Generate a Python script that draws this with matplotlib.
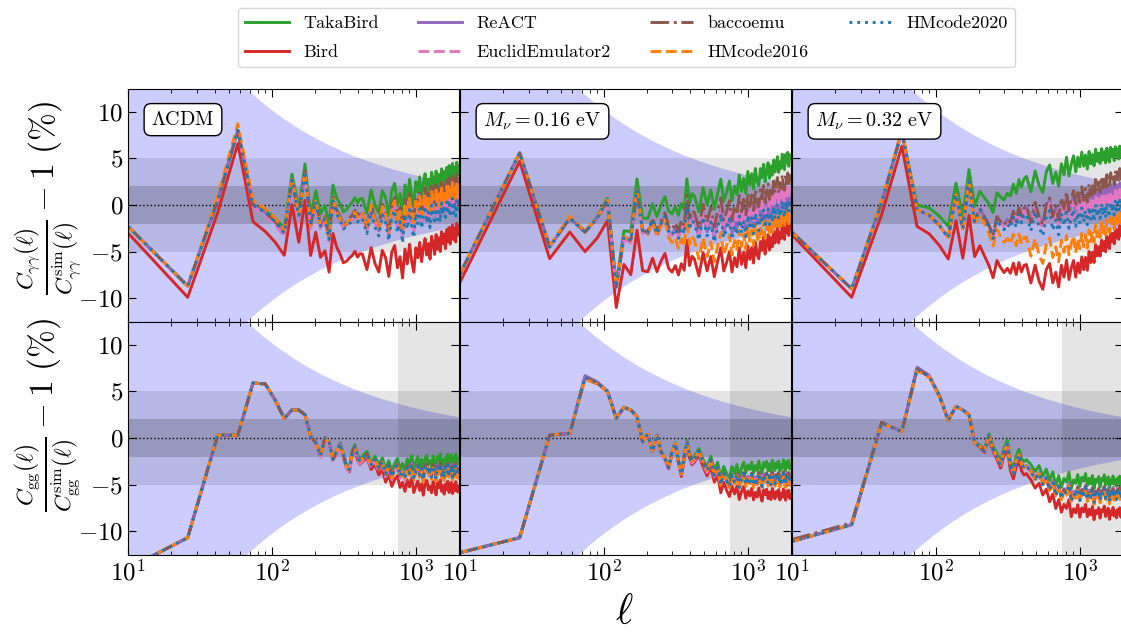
import numpy as np
import matplotlib.pyplot as plt

plt.rcParams['font.family'] = 'serif'
plt.rcParams['font.serif'] = ['cmr10']
plt.rcParams['mathtext.fontset'] = 'cm'
plt.rcParams['axes.formatter.use_mathtext'] = True

# multipole bins: width 16 up to 410, then every other bin
ell = np.concatenate([np.arange(10, 411, 16), np.arange(426, 1995, 32)])

models = ['TakaBird', 'Bird', 'ReACT', 'EuclidEmulator2', 'baccoemu', 'HMcode2016', 'HMcode2020']
colors = ['tab:green', 'tab:red', 'tab:purple', 'tab:pink', 'tab:brown', 'tab:orange', 'tab:blue']
styles = ['-', '-', '-', '--', '-.', '--', ':']

cosmo_labels = [r'$\Lambda$CDM', r'$M_\nu = 0.16$ eV', r'$M_\nu = 0.32$ eV']

# common residual shape of each panel (%)
base_gam_lcdm = [-2.3, -8.7, 0.5, 8.0, 0.0, -0.8, -1.8, -3.0, 2.7, -1.1, 3.6, -2.2, 0.4, -2.2, -1.4, -3.6,
                 0.6, -0.8, -1.5, -2.4, -2.2, -1.8, -1.5, -1.0, -1.6, -1.2,
                 -1.2, -2.8, -0.4, -2.1, -3.0, -0.7, -1.5, -3.5, -0.9, -0.2,
                 -2.6, -1.4, -3.7, -0.6, -2.2, -0.1, -1.9, -3.1, -0.5, -1.6,
                 0.0, -2.1, -0.7, 0.3, -1.5, -0.3, -2.0, 0.4, -0.4, -1.6,
                 0.5, -1.1, 0.1, -1.4, 0.7, -0.6, 0.4, -1.2, 0.8, -0.5,
                 1.0, -0.8, 0.5, 1.2, -0.4, 0.8, -0.7, 1.3, 0.0, 0.9]
base_gam_016 = [-7.4, 5.6, -4.5, -1.4, -2.9, -1.4, 0.5, -8.8, -3.4, -3.8, 1.6, -2.8, -3.0, -1.6, -3.1, -2.0,
                -1.2, -2.8, -3.2, -2.5, -3.5, -2.3, -3.0, 0.2, -2.5, -1.5,
                -1.8, -3.6, -1.1, -3.1, -1.6, -3.8, -2.2, -0.8, -3.3, -2.4,
                -1.3, -3.5, -2.0, -3.0, -1.0, -2.8, -1.5, -3.2, -0.9, -2.4,
                -1.2, -2.9, -0.7, -2.1, -2.6, -0.8, -1.8, -0.4, -2.3, -1.2,
                -0.3, -2.0, -0.7, -1.7, -0.1, -1.4, -0.5, 0.2, -1.5, -0.4,
                -1.1, 0.4, -0.8, -1.3, 0.3, -0.6, 0.5, -1.0, 0.2, -0.2]
base_gam_032 = [-2.9, -9.0, 0.3, 7.9, -0.5, -1.1, -2.2, -3.5, 1.1, -2.5, 2.5, -1.8, -0.5, -1.5, -2.4, -3.6,
                -1.6, -2.2, -2.6, -2.0, -2.4, -1.2, -2.3, -0.9, -1.8, -1.0,
                -0.8, -2.6, -0.5, -2.2, -3.1, -1.0, -0.4, -2.5, -1.4, -3.0,
                -0.7, -2.0, -0.2, -2.3, -1.1, -0.3, -2.1, -0.6, -1.7, -0.1,
                -1.6, -0.4, -1.9, 0.0, -1.3, -0.3, -1.5, 0.3, -1.0, -0.1,
                -1.2, 0.4, -0.8, 0.1, -1.1, 0.5, -0.6, -1.0, 0.6, -0.4,
                0.4, -0.8, 0.7, -0.3, 0.5, -0.6, 0.8, 0.0, -0.5, 0.2]
base_gg_lcdm = [-14.0, -10.7, 0.3, 0.3, 5.9, 5.8, 4.0, 2.1, 3.0, 3.0, 2.5, 0.2, -0.5, -1.9, 0.0, -0.5,
                -2.3, -1.5, -0.6, -1.8, -3.0, -3.4, -1.5, -0.9, -2.0, -2.5,
                -2.2, -1.7, -2.9, -2.3, -3.3, -2.6, -3.9, -3.0, -4.2, -3.4,
                -2.9, -4.1, -3.5, -4.4, -3.1, -3.8, -2.8, -4.3, -3.6, -3.0,
                -4.0, -3.3, -4.5, -3.2, -2.9, -3.9, -3.5, -4.2, -3.0, -3.7,
                -4.4, -3.1, -3.6, -2.8, -4.0, -3.4, -4.3, -3.2, -3.8, -2.9,
                -4.1, -3.5, -3.0, -4.2, -3.3, -3.9, -2.9, -3.7, -4.0, -3.4]
base_gg_016 = [-12.3, -10.7, 0.3, 0.5, 6.5, 5.9, 5.0, 2.1, 3.3, 3.0, 2.3, -0.4, 0.4, -1.4, 0.3, -1.5,
               -2.2, -3.2, -1.5, -0.6, -2.5, -3.9, -2.0, -0.4, -1.8, -2.5,
               -2.2, -1.4, -2.6, -3.5, -2.4, -4.0, -3.2, -5.0, -3.8, -4.6,
               -5.2, -4.0, -4.8, -3.9, -5.3, -4.4, -3.8, -5.0, -4.2, -4.7,
               -3.9, -5.1, -4.3, -4.8, -3.8, -4.6, -5.2, -4.0, -4.5, -3.9,
               -4.9, -4.2, -5.0, -3.8, -4.4, -4.9, -4.1, -4.6, -3.9, -5.0,
               -4.3, -4.7, -3.8, -4.5, -5.0, -4.0, -4.6, -3.9, -4.8, -4.4]
base_gg_032 = [-11.1, -9.3, 1.6, 0.7, 7.4, 6.6, 4.5, 1.9, 3.4, 3.0, 2.5, -0.5, -0.9, -1.4, 0.2, -1.2,
               -2.0, -2.9, -1.5, -0.7, -3.0, -3.8, -2.5, -1.8, -2.8, -3.2,
               -3.0, -3.6, -4.4, -3.8, -5.0, -4.3, -5.6, -4.7, -6.2, -5.2,
               -6.5, -5.6, -6.0, -5.0, -6.8, -5.9, -6.3, -5.4, -6.7, -5.7,
               -6.1, -5.3, -6.6, -5.8, -6.4, -5.5, -6.9, -5.9, -6.2, -5.6,
               -6.7, -5.8, -6.0, -5.4, -6.5, -6.0, -5.6, -6.8, -5.9, -6.3,
               -5.5, -6.4, -5.9, -6.6, -5.7, -6.2, -5.5, -6.5, -6.0, -5.8]

# per-model shift from the common shape, at a few multipoles
ell_anchor = [10, 26, 58, 74, 122, 170, 250, 500, 1000, 2000]
off_gam_lcdm = [[0, 0, 0, 0, 0.5, 0.8, 1.5, 2.0, 3.0, 3.3],
                [-0.7, -1.2, -1.4, -1.8, -2.4, -3.1, -3.6, -4.2, -4.1, -3.2],
                [0, 0, 0, 0, 0, 0, 0, 0.2, 0.3, 0.4],
                [0, 0, 0, -0.2, -0.4, -0.4, -0.3, 0.2, 0.4, 0.5],
                [0, 0, 0, 0, 0, 0, 0.2, 0.6, 1.4, 2.0],
                [0, 0, 0.7, 0.5, 0.3, 0, 0, 0.4, 0.9, 1.3],
                [0, 0, 0, 0, 0, 0, -0.1, -0.3, -0.4, -0.5]]
off_gam_016 = [[0, 0, 0, 0, 0.3, 1.2, 2.0, 3.0, 4.5, 5.2],
               [-0.9, -0.9, -1.5, -2.1, -2.2, -4.3, -4.0, -4.0, -3.5, -2.2],
               [0, 0, 0, 0, 0, 0, 0, 0.2, 0.6, 0.9],
               [0, 0, 0, 0, -0.3, -0.3, -0.3, 0.5, 1.2, 1.7],
               [0, 0, 0, 0, 0, 0, 0.3, 1.2, 2.2, 3.0],
               [0, 0, 0.2, 0.1, 0, 0, -0.3, -2.5, -1.5, -1.0],
               [0, 0, 0, 0, 0, 0, 0, -0.2, -0.2, 0]]
off_gam_032 = [[0, 0, 0, 0.5, 1.2, 1.3, 2.8, 4.2, 5.8, 5.5],
               [-0.3, -0.9, -1.6, -1.8, -2.3, -3.6, -4.2, -6.0, -5.6, -2.8],
               [0, 0, 0, 0, 0, 0, 0.3, 0.8, 1.4, 1.6],
               [0, 0, 0, 0, 0, 0, 0.2, 0.5, 0.7, 0.9],
               [0, 0, 0, 0, 0, 0, 0.3, 0.8, 2.0, 3.2],
               [0, 0, 0.2, 0, 0, 0, -0.8, -3.2, -3.0, -1.5],
               [0, 0, 0, 0, 0, 0, 0, -0.2, -0.2, -0.3]]
off_gg_lcdm = [[0, 0, 0, 0, 0, 0, 0, 0.3, 1.0, 1.2],
               [0, 0, 0, 0, 0, 0, 0, -0.5, -1.6, -1.8],
               [0, 0, 0, 0, 0, 0, 0, 0, 0.1, 0.2],
               [0, 0, 0, 0, 0, 0, -0.3, -0.3, -0.2, -0.2],
               [0, 0, 0, 0, 0, 0, 0, 0, 0.1, 0.2],
               [0, 0, 0, 0, 0, 0, 0, 0, -0.2, -0.3],
               [0, 0, 0, 0, 0, 0, 0, 0, 0, 0]]
off_gg_016 = [[0, 0, 0, 0, 0, 0, 0, 0.3, 1.3, 1.5],
              [0, 0, 0, 0, 0, 0, 0, -0.5, -1.5, -1.7],
              [0, 0, 0, 0.2, 0, 0, 0, 0, 0.1, 0.2],
              [0, 0, 0, 0, 0, 0, -0.2, -0.2, -0.1, -0.1],
              [0, 0, 0, 0, 0, 0, 0, 0, 0.1, 0.2],
              [0, 0, 0, -0.2, 0, 0, 0, 0, -0.2, -0.3],
              [0, 0, 0, 0, 0, 0, 0, 0, 0, 0]]
off_gg_032 = [[0, 0, 0, 0, 0, 0, 0.3, 0.8, 1.5, 1.4],
              [0, 0, 0, 0, 0, 0, -0.2, -1.0, -1.8, -2.0],
              [0, 0, 0, 0.2, 0, 0, 0, 0.1, 0.2, 0.2],
              [0, 0, 0, 0, 0, 0, 0, 0, 0, 0],
              [0.2, 0.2, 0, 0, 0, 0, 0, 0, 0.1, 0.2],
              [0, 0, 0, -0.2, 0, 0, 0, 0, -0.2, -0.3],
              [0, 0, 0, 0, 0, 0, 0, 0, 0, 0]]

panels = [[(base_gam_lcdm, off_gam_lcdm), (base_gam_016, off_gam_016), (base_gam_032, off_gam_032)],
          [(base_gg_lcdm, off_gg_lcdm), (base_gg_016, off_gg_016), (base_gg_032, off_gg_032)]]

# sample variance envelope ~ 1/sqrt(ell)
sv_amp = 102.0
ell_sv = np.geomspace(10, 2000, 400)
sv = sv_amp / np.sqrt(ell_sv)
ell_cut = 750

ylabels = [r'$\frac{C_{\gamma\gamma}(\ell)}{C^{\mathrm{sim}}_{\gamma\gamma}(\ell)} - 1\ (\%)$',
           r'$\frac{C_{\mathrm{gg}}(\ell)}{C^{\mathrm{sim}}_{\mathrm{gg}}(\ell)} - 1\ (\%)$']

W, H = 1121, 632
fig = plt.figure(figsize=(W / 100, H / 100), dpi=100)
lefts = [128, 460, 792]
bottoms = [310.5, 77.5]

for r in range(2):
    for c in range(3):
        ax = fig.add_axes([lefts[c] / W, bottoms[r] / H, 331 / W, 233 / H])
        ax.fill_between(ell_sv, -sv, sv, color='blue', alpha=0.2, lw=0, zorder=0)
        ax.axhspan(-5, 5, color='k', alpha=0.1, lw=0, zorder=0)
        ax.axhspan(-2, 2, color='k', alpha=0.17, lw=0, zorder=0)
        if r == 1:
            ax.axvspan(ell_cut, 2000, color='k', alpha=0.1, lw=0, zorder=0)
        ax.axhline(0, color='k', ls=':', lw=1, zorder=1)

        base, offs = panels[r][c]
        base = np.array(base)
        for m in range(len(models)):
            shift = np.interp(np.log10(ell), np.log10(ell_anchor), offs[m])
            ax.plot(ell, base + shift, color=colors[m], ls=styles[m], lw=2.1,
                    label=models[m], zorder=2)

        ax.set_xscale('log')
        ax.set_xlim(10, 2000)
        ax.set_ylim(-12.5, 12.5)
        ax.set_yticks([-10, -5, 0, 5, 10])
        ax.tick_params(which='both', direction='in', top=True, right=True, labelsize=18)
        ax.tick_params(which='major', length=6)
        ax.tick_params(which='minor', length=3)
        if c > 0:
            ax.set_yticklabels([])
        if r == 0:
            ax.set_xticklabels([])
            ax.text(0.07, 0.905, cosmo_labels[c], transform=ax.transAxes, fontsize=14.5,
                    va='top', ha='left',
                    bbox=dict(boxstyle='round,pad=0.35', fc='white', ec='k', lw=1))
        if r == 0 and c == 0:
            handles, labels = ax.get_legend_handles_labels()

fig.text(0.043, 1 - 198 / H, ylabels[0], rotation=90, ha='center', va='center', fontsize=24)
fig.text(0.043, 1 - 415 / H, ylabels[1], rotation=90, ha='center', va='center', fontsize=24)
fig.text(0.557, 1 - 613 / H, r'$\ell$', ha='center', va='center', fontsize=30)

fig.legend(handles, labels, loc='upper center', bbox_to_anchor=(0.559, 0.987), ncol=4,
           borderaxespad=0, fontsize=13, handlelength=2.4, columnspacing=2.2, labelspacing=0.75)

fig.savefig('out.png', dpi=100)
